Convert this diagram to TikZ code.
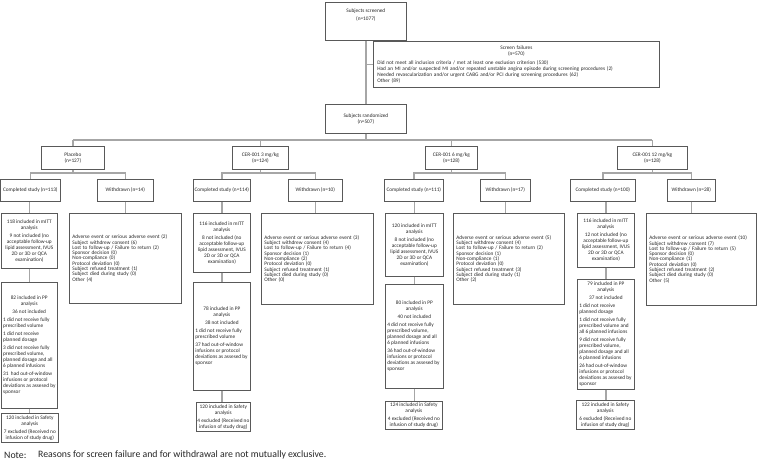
\documentclass[tikz,border=0pt]{standalone}
\usepackage{fontspec}
\setmainfont{Carlito}
\definecolor{bordc}{HTML}{595959}
\definecolor{linec}{HTML}{A6A6A6}
\definecolor{txtc}{HTML}{262626}
\newcommand{\cbx}[2]{\makebox[#1pt][c]{#2}}
\begin{document}
\begin{tikzpicture}[x=1pt,y=-1pt,
 box/.style={draw=bordc, line width=0.7pt, anchor=north west, inner sep=1pt, text=txtc, font=\fontsize{5.3}{6}\selectfont, align=center},
 ppbox/.style={box, align=left},
 reasons/.style={box, align=left, inner xsep=3pt, font=\fontsize{5.3}{5.3}\selectfont},
 conn/.style={draw=linec, line width=1.3pt},
 notef/.style={anchor=west, inner sep=0pt, text=txtc, font=\fontsize{9.8}{11}\selectfont}]
\useasboundingbox (0,0) rectangle (757,462);

% ---- top ----
\node[box, minimum width=81pt, minimum height=38pt] (scr) at (325,2) {\parbox[c][26pt][t]{75pt}{\centering Subjects screened\\[2pt](n=1077)}};
\node[box, align=left, text width=278pt, inner xsep=4pt, minimum width=286pt, minimum height=46pt] (sf) at (373,41)
 {{\centering Screen failures\\(n=570)\par}\vspace{3pt}Did not meet all inclusion criteria / met at least one exclusion criterion (530)\\Had an MI and/or suspected MI and/or repeated unstable angina episode during screening procedures (2)\\Needed revascularization and/or urgent CABG and/or PCI during screening procedures (62)\\Other (89)};
\node[box, minimum width=81pt, minimum height=29pt] (rnd) at (325,104) {Subjects randomized\\(n=507)};

% ---- group boxes ----
\node[box, minimum width=63pt, minimum height=23pt] (g1) at (41,146) {Placebo\\(n=127)};
\node[box, minimum width=56pt, minimum height=23pt] (g2) at (232,146) {CER-001 3 mg/kg\\(n=124)};
\node[box, minimum width=52pt, minimum height=23pt] (g3) at (425,146) {CER-001 6 mg/kg\\(n=128)};
\node[box, minimum width=70pt, minimum height=23pt] (g4) at (617,146) {CER-001 12 mg/kg\\(n=128)};

% ---- completed / withdrawn ----
\node[box, minimum width=59pt, minimum height=22pt] (c1) at (0.5,179) {Completed study (n=113)};
\node[box, minimum width=56pt, minimum height=22pt] (w1) at (97,179) {Withdrawn (n=14)};
\node[box, minimum width=57pt, minimum height=22pt] (c2) at (193,179) {Completed study (n=114)};
\node[box, minimum width=54pt, minimum height=22pt] (w2) at (288,179) {Withdrawn (n=10)};
\node[box, minimum width=59pt, minimum height=22pt] (c3) at (384,179) {Completed study (n=111)};
\node[box, minimum width=50pt, minimum height=22pt] (w3) at (480,179) {Withdrawn (n=17)};
\node[box, minimum width=65pt, minimum height=22pt] (c4) at (570,179) {Completed study (n=100)};
\node[box, minimum width=48pt, minimum height=22pt] (w4) at (667,179) {Withdrawn (n=28)};

% ---- mITT ----
\node[box, minimum width=56pt, minimum height=55pt] (m1) at (1,213) {118 included in mITT\\analysis\\[2pt]9 not included (no\\acceptable follow-up\\lipid assessment, IVUS\\2D or 3D or QCA\\examination)};
\node[box, minimum width=57pt, minimum height=59pt] (m2) at (193,213) {116 included in mITT\\analysis\\[2pt]8 not included (no\\acceptable follow-up\\lipid assessment, IVUS\\2D or 3D or QCA\\examination)};
\node[box, minimum width=58pt, minimum height=63pt] (m3) at (385,213) {120 included in mITT\\analysis\\[2pt]8 not included (no\\acceptable follow-up\\lipid assessment, IVUS\\2D or 3D or QCA\\examination)};
\node[box, minimum width=57pt, minimum height=54pt] (m4) at (577,213) {116 included in mITT\\analysis\\[2pt]12 not included (no\\acceptable follow-up\\lipid assessment, IVUS\\2D or 3D or QCA\\examination)};

% ---- PP ----
\node[ppbox, minimum width=56pt, minimum height=126pt] (p1) at (1,282) {\cbx{52}{82 included in PP}\\\cbx{52}{analysis}\\[2pt]\cbx{52}{36 not included}\\[2pt]1 did not receive fully\\prescribed volume\\[2pt]1 did not receive\\planned dosage\\[2pt]3 did not receive fully\\prescribed volume,\\planned dosage and all\\6 planned infusions\\[2pt]31\ \ had out-of-window\\infusions or protocol\\deviations as assesed by\\sponsor};
\node[ppbox, minimum width=57pt, minimum height=108pt] (p2) at (193,282) {\cbx{53}{78 included in PP}\\\cbx{53}{analysis}\\[2pt]\cbx{53}{38 not included}\\[2pt]1 did not receive fully\\prescribed volume\\[2pt]37 had out-of-window\\infusions or protocol\\deviations as assesed by\\sponsor};
\node[ppbox, minimum width=58pt, minimum height=104pt] (p3) at (385,284) {\cbx{54}{80 included in PP}\\\cbx{54}{analysis}\\[2pt]\cbx{54}{40 not included}\\[2pt]4 did not receive fully\\prescribed volume,\\planned dosage and all\\6 planned infusions\\[2pt]36 had out-of-window\\infusions or protocol\\deviations as assesed by\\sponsor};
\node[ppbox, minimum width=57pt, minimum height=110pt] (p4) at (577,279) {\cbx{53}{79 included in PP}\\\cbx{53}{analysis}\\[2pt]\cbx{53}{37 not included}\\[2pt]1 did not receive\\planned dosage\\[2pt]1 did not receive fully\\prescribed volume and\\all 6 planned infusions\\[2pt]9 did not receive fully\\prescribed volume,\\planned dosage and all\\6 planned infusions\\[2pt]26 had out-of-window\\infusions or protocol\\deviations as assesed by\\sponsor};

% ---- Safety ----
\node[box, minimum width=57pt, minimum height=29pt] (s1) at (1,413) {120 included in Safety\\analysis\\[2pt]7 excluded (Received no\\infusion of study drug)};
\node[box, minimum width=54pt, minimum height=29pt] (s2) at (196,402) {120 included in Safety\\analysis\\[2pt]4 excluded (Received no\\infusion of study drug)};
\node[box, minimum width=57pt, minimum height=28pt] (s3) at (385,401) {124 included in Safety\\analysis\\[2pt]4 excluded (Received no\\infusion of study drug)};
\node[box, minimum width=58pt, minimum height=29pt] (s4) at (576,400) {122 included in Safety\\analysis\\[2pt]6 excluded (Received no\\infusion of study drug)};

% ---- withdrawal reasons ----
\node[reasons, text width=106pt, minimum height=90pt] (r1) at (69,213) {Adverse event or serious adverse event (2)\\Subject withdrew consent (6)\\Lost to follow-up / Failure to return (2)\\Sponsor decision (0)\\Non-compliance (0)\\Protocol deviation (0)\\Subject refused treatment (1)\\Subject died during study (0)\\Other (4)};
\node[reasons, text width=106pt, minimum height=91pt] (r2) at (261,213) {Adverse event or serious adverse event (3)\\Subject withdrew consent (4)\\Lost to follow-up / Failure to return (4)\\Sponsor decision (1)\\Non-compliance (2)\\Protocol deviation (0)\\Subject refused treatment (1)\\Subject died during study (0)\\Other (0)};
\node[reasons, text width=105pt, minimum height=91pt] (r3) at (453,213) {Adverse event or serious adverse event (5)\\Subject withdrew consent (4)\\Lost to follow-up / Failure to return (2)\\Sponsor decision (1)\\Non-compliance (1)\\Protocol deviation (0)\\Subject refused treatment (3)\\Subject died during study (1)\\Other (2)};
\node[reasons, text width=104pt, minimum height=92pt] (r4) at (646,213) {Adverse event or serious adverse event (10)\\Subject withdrew consent (7)\\Lost to follow-up / Failure to return (5)\\Sponsor decision (0)\\Non-compliance (1)\\Protocol deviation (0)\\Subject refused treatment (2)\\Subject died during study (0)\\Other (5)};

% ---- note ----
\node[notef] (notel) at (4,455) {Note:};
\node[notef] (notet) at (38,455) {Reasons for screen failure and for withdrawal are not mutually exclusive.};

% ---- connectors ----
\draw[conn] (scr.south) -- (rnd.north);
\draw[conn] (scr.south |- sf.west) -- (sf.west);
\draw[conn] (rnd.south) -- (rnd.south |- 0,140);
\draw[conn] (g1.north |- 0,140) -- (g4.north |- 0,140);
\foreach \i in {1,2,3,4} {
  \draw[conn] (g\i.north) -- (g\i.north |- 0,140);
  \draw[conn] (g\i.south) -- (g\i.south |- 0,173);
  \draw[conn] (c\i.north) -- (c\i.north |- 0,173) -- (w\i.north |- 0,173) -- (w\i.north);
  \draw[conn] (m\i.north) -- (m\i.north |- c\i.south);
  \draw[conn] (m\i.south) -- (m\i.south |- p\i.north);
  \draw[conn] (p\i.south) -- (p\i.south |- s\i.north);
  \draw[conn] (w\i.south) -- (w\i.south |- r\i.north);
}
\end{tikzpicture}
\end{document}
